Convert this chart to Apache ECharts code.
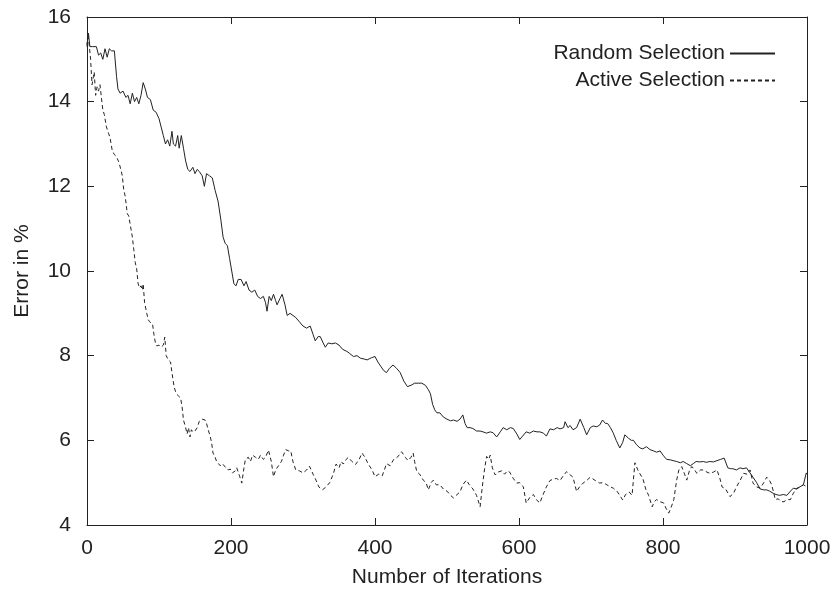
<!DOCTYPE html>
<html>
<head>
<meta charset="utf-8">
<script src="https://cdn.jsdelivr.net/npm/echarts@6/dist/echarts.min.js"></script>
<style>html,body{margin:0;padding:0;background:#fff}#c{width:835px;height:590px}</style>
</head>
<body>
<div id="c"></div>
<script>
const xTicks = [0, 200, 400, 600, 800, 1000];
const yTicks = [4, 6, 8, 10, 12, 14, 16];
const seriesNames = ['Random Selection', 'Active Selection'];

const randomIter = [0,2,4,8,13,16,19,22,25,28,31,34,38,41,43,46,50,54,57,60,63,66,69,72,75,78,81,84,88,92,96,100,103,106,109,112,115,118,120,123,126,128,131,134,137,140,143,147,150,153,156,160,163,166,170,174,178,182,186,189,192,195,198,201,204,207,210,214,218,221,225,229,233,237,241,245,248,250,253,256,259,262,264,268,271,275,278,282,286,290,295,300,305,310,314,317,321,324,328,331,335,340,345,350,355,361,365,370,375,380,385,389,395,400,404,408,412,416,420,425,430,435,440,445,450,455,460,465,470,474,477,480,483,486,490,495,500,505,509,514,518,522,525,528,532,536,541,546,550,555,560,564,569,574,578,583,588,592,597,601,605,610,615,620,625,629,634,638,643,648,653,657,662,664,668,671,675,680,685,690,694,699,703,708,712,716,720,723,727,731,735,740,744,747,752,756,759,763,768,772,777,782,787,791,796,800,805,810,814,819,824,828,833,838,842,846,851,856,860,865,870,875,880,885,890,894,897,902,907,911,916,920,925,930,935,940,944,948,953,957,962,967,972,976,981,986,990,995,999,1000];
const randomErr = [15.35,15.62,15.3,15.3,15.3,15.1,15.15,15.0,15.25,15.05,15.25,15.2,15.2,14.6,14.3,14.2,14.25,14.1,14.15,13.95,14.2,14.0,14.1,13.95,14.15,14.45,14.3,14.1,14.05,13.8,13.75,13.6,13.4,13.2,13.0,13.1,12.95,13.3,13.0,12.95,13.2,12.9,13.2,12.9,12.6,12.4,12.35,12.45,12.3,12.4,12.35,12.25,12.0,12.3,12.25,12.2,11.9,11.65,11.2,10.8,10.65,10.6,10.3,10.0,9.7,9.65,9.8,9.8,9.65,9.75,9.55,9.5,9.55,9.4,9.35,9.4,9.25,9.05,9.4,9.3,9.45,9.3,9.2,9.35,9.45,9.2,8.95,9.0,8.95,8.9,8.8,8.7,8.65,8.7,8.5,8.35,8.45,8.45,8.3,8.2,8.3,8.28,8.3,8.25,8.15,8.1,8.05,7.98,8.0,7.94,7.92,7.9,7.95,7.98,7.85,7.75,7.65,7.6,7.7,7.78,7.7,7.6,7.4,7.27,7.3,7.35,7.35,7.35,7.3,7.2,7.1,6.85,6.72,6.65,6.65,6.55,6.5,6.46,6.48,6.45,6.5,6.6,6.4,6.3,6.3,6.28,6.22,6.22,6.2,6.17,6.2,6.18,6.08,6.2,6.3,6.25,6.3,6.28,6.15,6.02,6.1,6.2,6.17,6.22,6.2,6.2,6.17,6.1,6.27,6.25,6.3,6.27,6.3,6.44,6.3,6.35,6.25,6.3,6.5,6.3,6.13,6.3,6.34,6.32,6.36,6.48,6.4,6.4,6.3,6.17,6.0,5.82,5.95,6.13,6.05,6.0,6.0,5.9,5.82,5.8,5.85,5.78,5.75,5.72,5.75,5.65,5.55,5.54,5.52,5.5,5.47,5.5,5.45,5.4,5.45,5.5,5.49,5.5,5.48,5.5,5.49,5.52,5.55,5.58,5.35,5.33,5.33,5.3,5.35,5.33,5.35,5.25,5.13,5.0,4.85,4.83,4.83,4.8,4.75,4.72,4.7,4.72,4.7,4.78,4.87,4.85,4.9,4.95,5.23,5.2];

const activeIter = [0,1,3,5,6,7,9,10,12,14,16,18,20,22,24,27,30,32,35,38,41,44,47,49,51,53,56,58,60,63,65,67,69,71,73,75,77,78,80,83,85,87,89,91,93,95,97,100,103,106,108,110,113,116,118,121,124,127,130,132,134,137,139,141,143,145,147,150,153,156,160,164,166,168,171,173,175,178,180,182,185,188,192,196,199,202,206,208,210,212,215,218,220,224,227,230,234,238,241,245,248,252,256,259,262,266,270,273,276,280,283,286,290,295,300,305,309,314,318,322,327,332,337,342,346,350,353,356,360,363,368,373,378,382,386,391,396,400,405,410,413,416,421,426,431,437,442,446,450,453,455,458,462,467,471,474,478,481,485,490,495,500,505,509,514,518,522,527,531,536,541,546,549,552,555,558,560,563,567,571,576,580,584,587,592,597,601,606,610,615,620,624,629,633,638,643,647,652,657,661,666,670,675,680,684,689,694,699,701,706,712,717,722,727,731,736,740,744,748,753,757,761,765,769,772,776,780,785,788,791,796,801,804,808,812,815,819,822,826,830,833,837,840,844,847,852,856,861,865,870,875,879,882,887,893,898,902,907,912,917,921,925,930,935,940,944,948,951,956,960,964,968,972,977,981,986,990,995,1000];
const activeErr = [15.3,15.6,15.35,15.0,14.7,14.4,14.6,14.7,14.15,14.35,14.25,14.4,14.1,13.8,13.7,13.4,13.25,13.15,12.85,12.75,12.7,12.58,12.4,12.25,11.92,11.77,11.35,11.3,11.28,10.8,10.5,10.2,10.05,9.7,9.6,9.65,9.55,9.7,9.25,9.0,8.85,8.8,8.82,8.75,8.5,8.3,8.23,8.25,8.2,8.25,8.44,8.0,7.9,7.85,7.6,7.26,7.1,7.05,7.0,6.8,6.48,6.3,6.15,6.3,6.08,6.25,6.2,6.22,6.3,6.45,6.5,6.48,6.4,6.27,6.1,5.95,5.7,5.6,5.5,5.54,5.4,5.45,5.37,5.3,5.32,5.23,5.28,5.35,5.38,5.15,4.99,5.35,5.55,5.6,5.5,5.65,5.6,5.55,5.65,5.55,5.6,5.77,5.5,5.14,5.3,5.4,5.5,5.65,5.78,5.75,5.75,5.5,5.3,5.28,5.23,5.3,5.39,5.2,5.06,4.9,4.83,4.9,5.0,5.2,5.44,5.35,5.5,5.44,5.55,5.6,5.5,5.43,5.55,5.7,5.6,5.43,5.3,5.14,5.2,5.16,5.3,5.45,5.4,5.55,5.6,5.73,5.6,5.52,5.6,5.7,5.5,5.26,5.2,5.06,5.0,4.83,5.0,5.06,4.95,4.95,4.85,4.8,4.7,4.64,4.72,4.78,4.95,5.06,4.95,4.85,4.7,4.43,4.9,5.3,5.62,5.55,5.65,5.35,5.18,5.25,5.28,5.2,5.28,5.25,5.1,4.99,5.0,4.9,4.52,4.65,4.72,4.6,4.52,4.7,4.9,5.05,5.08,5.1,5.05,5.15,5.26,5.2,5.13,4.79,4.9,4.99,5.05,5.13,5.1,5.05,4.99,5.0,4.95,4.9,4.87,4.8,4.7,4.59,4.72,4.78,4.7,5.47,5.3,5.18,5.1,4.85,4.7,4.43,4.55,4.6,4.55,4.52,4.4,4.28,4.45,4.6,5.06,5.3,5.38,5.2,5.06,5.3,5.38,5.3,5.22,5.3,5.3,5.25,5.22,5.25,5.3,5.1,4.9,4.85,4.67,4.75,4.9,5.05,5.22,5.2,5.3,4.99,4.9,4.87,5.0,5.13,5.05,4.95,4.6,4.62,4.55,4.55,4.6,4.6,4.75,4.87,4.9,4.95,4.9];

const pair = (xs, ys) => xs.map((x, i) => [x, ys[i]]);
const FONT = 'Liberation Sans, Arial, sans-serif';
const FS = 21;
const INK = '#222';

const chart = echarts.init(document.getElementById('c'), null, {renderer: 'canvas'});
const baseAxis = {
  axisLine: {show: true, onZero: false, lineStyle: {color: INK, width: 1}},
  axisTick: {show: true, inside: true, length: 7, lineStyle: {color: INK, width: 1}},
  splitLine: {show: false},
  minorTick: {show: false}
};
chart.setOption({
  animation: false,
  backgroundColor: '#fff',
  grid: {left: 87, right: 28, top: 17, bottom: 65, containLabel: false, outerBoundsMode: 'none'},
  legend: {
    orient: 'vertical', right: 54, top: 38, align: 'right',
    itemWidth: 45, itemHeight: 14, itemGap: 6,
    itemStyle: {opacity: 0, borderWidth: 0},
    textStyle: {fontFamily: FONT, fontSize: FS, color: INK},
    data: seriesNames
  },
  xAxis: [
    Object.assign({}, baseAxis, {
      type: 'value', position: 'bottom', min: 0, max: 1000, interval: 200,
      axisLabel: {show: true, margin: 13, fontFamily: FONT, fontSize: FS, color: INK,
        formatter: v => xTicks.includes(v) ? String(v) : ''},
      name: 'Number of Iterations', nameLocation: 'middle', nameGap: 42,
      nameTextStyle: {fontFamily: FONT, fontSize: FS, color: INK}
    }),
    Object.assign({}, baseAxis, {
      type: 'value', position: 'top', min: 0, max: 1000, interval: 200,
      axisLabel: {show: false}
    })
  ],
  yAxis: [
    Object.assign({}, baseAxis, {
      type: 'value', position: 'left', min: 4, max: 16, interval: 2,
      axisLabel: {show: true, margin: 16, fontFamily: FONT, fontSize: FS, color: INK,
        formatter: v => yTicks.includes(v) ? String(v) : ''},
      name: 'Error in %', nameLocation: 'middle', nameGap: 54, nameRotate: 90,
      nameTextStyle: {fontFamily: FONT, fontSize: FS, color: INK}
    }),
    Object.assign({}, baseAxis, {
      type: 'value', position: 'right', min: 4, max: 16, interval: 2,
      axisLabel: {show: false}
    })
  ],
  series: [
    {
      name: seriesNames[0], type: 'line', xAxisIndex: 0, yAxisIndex: 0,
      data: pair(randomIter, randomErr), symbol: 'none', smooth: false,
      lineStyle: {color: INK, width: 1, type: 'solid'}, itemStyle: {color: INK}
    },
    {
      name: seriesNames[1], type: 'line', xAxisIndex: 0, yAxisIndex: 0,
      data: pair(activeIter, activeErr), symbol: 'none', smooth: false,
      lineStyle: {color: INK, width: 1, type: [4, 3]}, itemStyle: {color: INK}
    }
  ]
});
</script>
</body>
</html>
